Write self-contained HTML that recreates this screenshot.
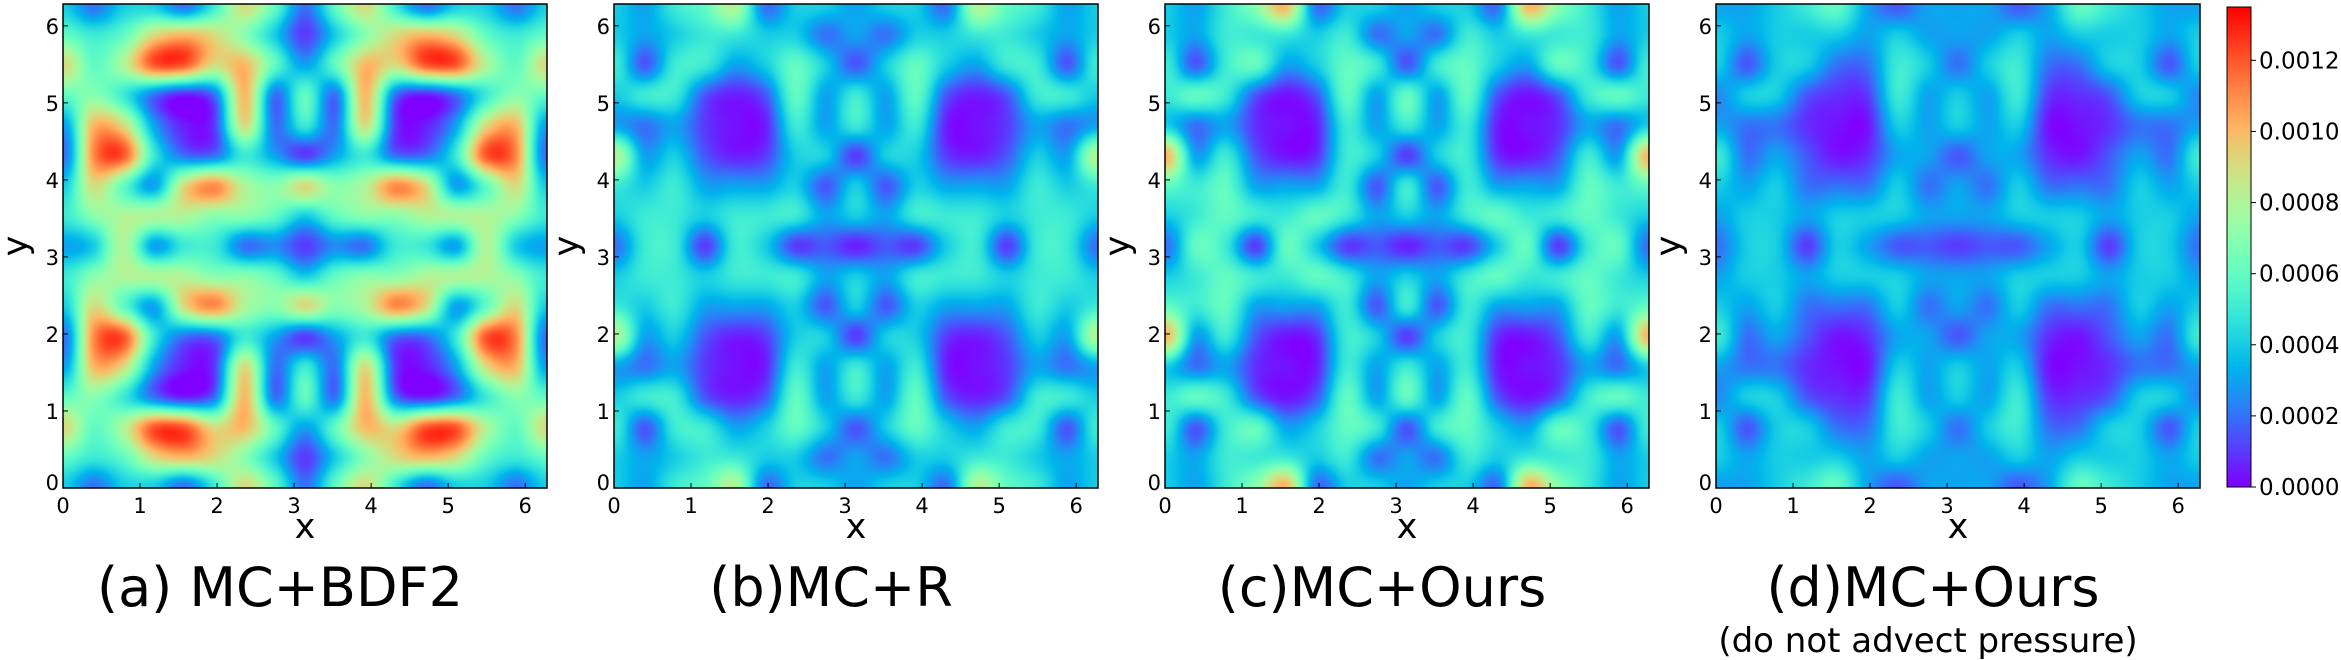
<!DOCTYPE html>
<html>
<head>
<meta charset="utf-8">
<style>
  html,body{margin:0;padding:0;background:#fff;}
  #wrap{position:relative;width:2341px;height:660px;overflow:hidden;font-family:"DejaVu Sans","Liberation Sans",sans-serif;}
  canvas{position:absolute;}
  svg{position:absolute;left:0;top:0;}
</style>
</head>
<body>
<div id="wrap">
  <canvas id="hm0" width="484" height="484" style="left:63px;top:4px"></canvas>
  <canvas id="hm1" width="484" height="484" style="left:614px;top:4px"></canvas>
  <canvas id="hm2" width="484" height="484" style="left:1165px;top:4px"></canvas>
  <canvas id="hm3" width="484" height="484" style="left:1716px;top:4px"></canvas>
  <canvas id="cbar" width="24" height="480" style="left:2227px;top:7px"></canvas>
  <svg id="ov" width="2341" height="660"></svg>
</div>
<script>
// ---- data (units of 1e-4), lower-left quadrant x,y in [0, pi], mirrored to full domain ----
const tickValues = [0,1,2,3,4,5,6];
const cbarTicks = [0.0000,0.0002,0.0004,0.0006,0.0008,0.0010,0.0012];
const cbarTickLabels = ["0.0000","0.0002","0.0004","0.0006","0.0008","0.0010","0.0012"];
const vmax = 13.5;
const titles = ["(a) MC+BDF2","(b)MC+R","(c)MC+Ours","(d)MC+Ours"];
const subtitle = "(do not advect pressure)";
// rows from y=0 upward, columns x=0..pi
const gridA = [
  [4,2,4,4,2,5,9,6,2],
  [6,5,6,9,10,9,7,4,1],
  [9,6,8,12,12,9,10,6,3],
  [6,7,5,2,0.5,2,10,2,6],
  [3,10,9,3,0.5,1,9,2,5],
  [2,11,12,5,2,2,5,3,1],
  [4,9,6,3,9,11,8,7,9],
  [5,7,8,8,8,7,7,6,4],
  [3,4,8,3,5,5,2,2.5,1]
];
const gridB = [
  [4,3,5,6,8,2,4,4,3],
  [4,3,4,5,5,4,4,2,3],
  [5,1.5,5,5,3,4,6,4,1.5],
  [4,5,5,1.5,0.5,1.5,6,3,5],
  [3,2,3,1,0.3,0.5,5,3,5],
  [8,3,4,1.5,0.5,1,4,4,1],
  [5,4,5,3,3,3,4,1.5,4],
  [4,5,5,4,5,5,5,3,4],
  [2,5,5,1,5,4,1,1.5,0.5]
];
const gridC = [
  [4,3,5,7,10,2,4,4,3],
  [4,3,5,5,5,4,5,2,3],
  [5,1.5,5,6,3,4,6,5,1.5],
  [5,6,5,1.5,0.3,1.5,6,3,6],
  [4,2,3,0.8,0.3,0.5,5,3,5],
  [10,3,5,1.5,0.3,0.8,5,4,1],
  [6,5,6,3,3,3,5,1.5,5],
  [4,5,6,5,5,6,5,3,4],
  [2,6,5,1,6,4,1,1.5,0.5]
];
const gridD = [
  [3,3,4,5,6,3,1.5,3,3],
  [4,3,4,4,4,3,4,3,3],
  [4,1.5,4,4,2,2,5,4,2],
  [2.5,4,4,1.5,0.8,1,5,3,4],
  [3,2,2,0.8,0.3,0.3,4,3,4],
  [5,2,3,1.5,0.3,0.8,3,3,1.5],
  [4,3,4,2,2,2,4,2,3],
  [3,4,4,3,4,4,4,3,3],
  [2,4,4,1,4,3,1.5,1.5,1]
];
const grids = [gridA,gridB,gridC,gridD];

// ---- layout ----
const P = 484, top0 = 4, lefts = [63,614,1165,1716];
const TWO_PI = 2*Math.PI;
const xScale = (v, i) => lefts[i] + v/TWO_PI*P;
const yScale = v => top0 + P - v/TWO_PI*P;

function rainbow(t){
  t = Math.max(0, Math.min(1, t));
  const r = Math.min(1, Math.abs(2*t-0.5));
  const g = Math.sin(Math.PI*t);
  const b = Math.cos(Math.PI/2*t);
  return [Math.round(r*255), Math.round(g*255), Math.round(b*255)];
}
function fullGrid(q){
  const n = q.length, N = 2*n-1, out = [];
  for (let j=0;j<N;j++){ const jj = j<n? j : N-1-j; const row=[];
    for (let i=0;i<N;i++){ const ii = i<n? i : N-1-i; row.push(q[jj][ii]); }
    out.push(row); }
  return out;
}
function cr(p0,p1,p2,p3,t){
  return 0.5*((2*p1)+(-p0+p2)*t+(2*p0-5*p1+4*p2-p3)*t*t+(-p0+3*p1-3*p2+p3)*t*t*t);
}
function sample(G,u,v){
  const N = G.length;
  const idx = k => { if(k<0) return -k; if(k>N-1) return 2*(N-1)-k; return k; };
  const i = Math.floor(u), j = Math.floor(v), fu = u-i, fv = v-j;
  const rows = [];
  for (let m=-1;m<=2;m++){
    const r = G[idx(j+m)];
    rows.push(cr(r[idx(i-1)],r[idx(i)],r[idx(i+1)],r[idx(i+2)],fu));
  }
  return cr(rows[0],rows[1],rows[2],rows[3],fv);
}
grids.forEach((q,k)=>{
  const G = fullGrid(q), N = G.length;
  const c = document.getElementById('hm'+k), ctx = c.getContext('2d');
  const img = ctx.createImageData(P,P);
  for (let py=0;py<P;py++){
    const v = (P-1-py)/(P-1)*(N-1);
    for (let px=0;px<P;px++){
      const u = px/(P-1)*(N-1);
      const val = sample(G,u,v);
      const col = rainbow(val/vmax);
      const o = (py*P+px)*4;
      img.data[o]=col[0]; img.data[o+1]=col[1]; img.data[o+2]=col[2]; img.data[o+3]=255;
    }
  }
  ctx.putImageData(img,0,0);
});
(function(){
  const c = document.getElementById('cbar'), ctx = c.getContext('2d');
  for (let y=0;y<480;y++){ const col = rainbow(1 - y/479);
    ctx.fillStyle = 'rgb('+col.join(',')+')'; ctx.fillRect(0,y,24,1); }
})();

// ---- SVG overlay ----
const NS = 'http://www.w3.org/2000/svg', svg = document.getElementById('ov');
function el(tag, attrs, text){
  const e = document.createElementNS(NS, tag);
  for (const k in attrs) e.setAttribute(k, attrs[k]);
  if (text !== undefined) e.textContent = text;
  svg.appendChild(e); return e;
}
lefts.forEach((L,i)=>{
  const f = el('rect',{x:L,y:top0,width:P,height:P,fill:'none',stroke:'#000','stroke-width':1.5});
  
  
  tickValues.forEach(t=>{
    const x = xScale(t,i), y = yScale(t);
    const tx = el('line',{x1:x,y1:top0+P,x2:x,y2:top0+P-5,stroke:'#000','stroke-width':1});
    
    
    const ty = el('line',{x1:L,y1:y,x2:L+5,y2:y,stroke:'#000','stroke-width':1});
    
    
    const lx = el('text',{x:x,y:top0+P+25,'font-size':21,'text-anchor':'middle'},String(t));
    
    
    const ly = el('text',{x:L-4,y:y+8 - (t===0?6:0),'font-size':21,'text-anchor':'end'},String(t));
    
    
  });
  const xl = el('text',{x:L+P/2,y:538,'font-size':35,'text-anchor':'middle'},'x');
  
  
  const yl = el('text',{x:0,y:0,'font-size':35,'text-anchor':'middle',transform:'translate('+(L-36)+','+(top0+P/2)+') rotate(-90)'},'y');
  
  
  const tt = el('text',{x:L+P/2-25,y:606,'font-size':54,'text-anchor':'middle'},titles[i]);
  
  
});
const st = el('text',{x:lefts[3]+P/2-30,y:652,'font-size':34,'text-anchor':'middle'},subtitle);


const cbf = el('rect',{x:2227,y:7,width:24,height:480,fill:'none',stroke:'#000','stroke-width':1});


cbarTicks.forEach((v,k)=>{
  const y = 487 - (v*1e4)/vmax*480;
  const tl = el('line',{x1:2251,y1:y,x2:2256,y2:y,stroke:'#000','stroke-width':1});
  
  
  const tx = el('text',{x:2259,y:y+8,'font-size':23},cbarTickLabels[k]);
  
  
});
</script>
</body>
</html>
